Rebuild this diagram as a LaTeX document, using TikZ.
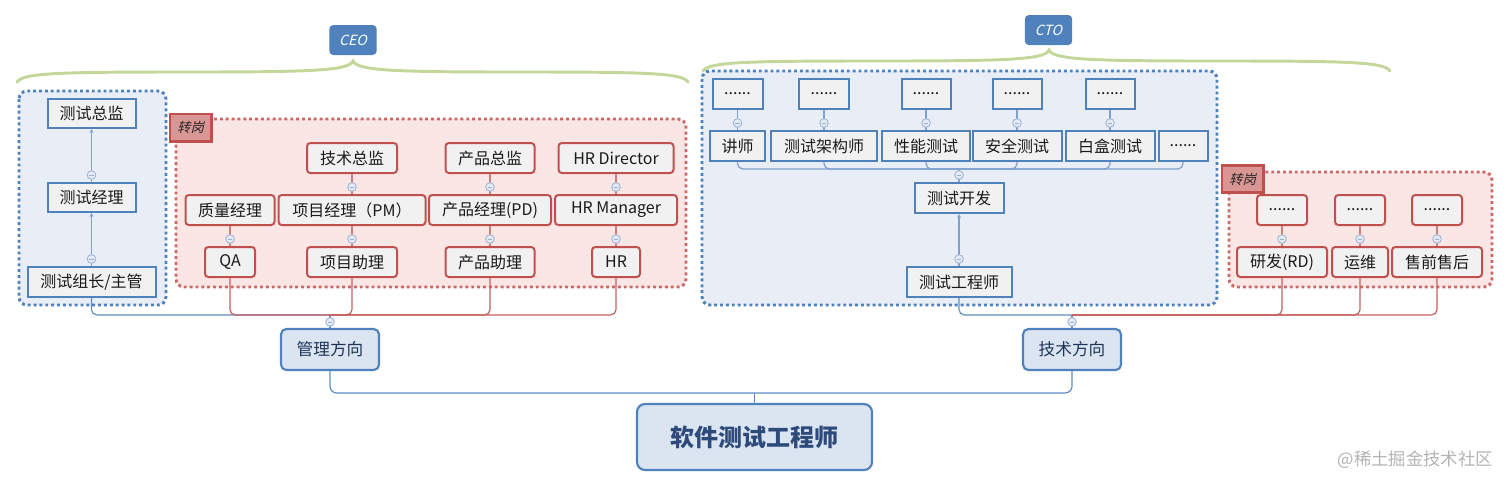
\documentclass[tikz,border=0pt]{standalone}
\usepackage{fontspec}
\setmainfont{Noto Sans CJK SC}
\newfontfamily\slantcjk{Noto Sans CJK SC}[FakeSlant=0.25]
\usetikzlibrary{arrows.meta,calc}
\definecolor{bblue}{HTML}{4F81BD}
\definecolor{lblue}{HTML}{7FA1CF}
\definecolor{bgblue}{HTML}{E9EEF6}
\definecolor{rred}{HTML}{C0504D}
\definecolor{lred}{HTML}{CC7F7D}
\definecolor{bgred}{HTML}{FBE6E6}
\definecolor{ngray}{HTML}{F1F1F1}
\definecolor{tagred}{HTML}{D99694}
\definecolor{dirfill}{HTML}{DBE5F1}
\definecolor{txt}{HTML}{1A1A1A}
\definecolor{navy}{HTML}{1F3556}
\definecolor{rootnavy}{HTML}{2E4A7A}
\definecolor{braceg}{HTML}{C4D79B}
\definecolor{togfill}{HTML}{E4EAF3}
\definecolor{togdraw}{HTML}{9AB0D3}
\definecolor{wm}{HTML}{B4B4B4}
\newcommand\mybrace[4]{%
  \draw[bracestyle] (#1,#4+10) .. controls (#1+6,#4+1) and (#1+40,#4) .. ({(#1+#2)/2},#4)
    .. controls (#2-45,#4) and (#2-4,#4-1) .. (#2,#4-11)
    .. controls (#2+4,#4-1) and (#2+45,#4) .. ({(#2+#3)/2},#4)
    .. controls (#3-40,#4) and (#3-6,#4+1) .. (#3,#4+10);}
\begin{document}
\begin{tikzpicture}[x=0.75pt,y=-0.75pt,
  bw/.style={minimum width={#1*0.75pt}},
  bh/.style={minimum height={#1*0.75pt}},
  basebox/.style={inner sep=0pt, font=\fontsize{12}{14}\selectfont, text=txt, line width=1.5pt, minimum height=22.5pt},
  bbox/.style={basebox, draw=bblue, fill=ngray},
  rbox/.style={basebox, draw=rred, fill=ngray, rounded corners=2.5pt},
  dirbox/.style={inner sep=0pt, draw=bblue, fill=dirfill, line width=1.6pt, rounded corners=4pt, text=navy, font=\fontsize{12.5}{15}\selectfont},
  grpb/.style={draw=bblue, fill=bgblue, line width=2.2pt, dash pattern=on 2.2pt off 2.2pt, rounded corners=6pt},
  grpr/.style={draw=rred!85, fill=bgred, line width=2.2pt, dash pattern=on 2.2pt off 2.2pt, rounded corners=6pt},
  tagbox/.style={draw=rred, fill=tagred, line width=2pt, inner sep=0pt, minimum width=31pt, minimum height=20.5pt, font=\slantcjk\fontsize{10}{11}\selectfont, text=black!85},
  labbox/.style={fill=bblue, rounded corners=3pt, inner sep=0pt, minimum width=35.5pt, minimum height=22.5pt, text=white, font=\slantcjk\fontsize{10.5}{12}\selectfont},
  bl/.style={draw=bblue!90, line width=0.9pt},
  bli/.style={draw=lblue, line width=0.9pt},
  barrow/.style={bli, -{Stealth[length=3pt,width=3pt]}},
  rl/.style={draw=rred!90, line width=0.9pt},
  rli/.style={draw=lred, line width=0.9pt},
  togc/.style={circle, draw=togdraw, fill=togfill, line width=0.6pt, minimum size=6.5pt, inner sep=0pt,
    path picture={\draw[togdraw, line width=0.6pt] ([xshift=-1.6pt]path picture bounding box.center) -- ([xshift=1.6pt]path picture bounding box.center);}},
  bracestyle/.style={draw=braceg, line width=2.2pt, line cap=round},
]
\useasboundingbox (0,0) rectangle (1508,487);
\fill[white] (0,0) rectangle (1508,487);

% braces and labels
\mybrace{17}{353}{688}{72}
\mybrace{703}{1049}{1390}{61}
\node[labbox] (ceo) at (353,40) {CEO};
\node[labbox] (cto) at (1048.5,30) {CTO};

% groups
\draw[grpb] (19,91) rectangle (166,305);
\draw[grpr] (176,119) rectangle (686,287);
\draw[grpb] (702,71) rectangle (1217,305);
\draw[grpr] (1229,172) rectangle (1492,287);
\node[tagbox] (tag1) at (190.5,127.5) {转岗};
\node[tagbox] (tag2) at (1242.5,179) {转岗};

% left blue group
\node[bbox,bw=88,bh=29] (zj) at (91.5,113.5) {测试总监};
\node[bbox,bw=88,bh=29] (jl) at (91.5,197.5) {测试经理};
\node[bbox,bw=128,bh=30] (zz) at (91.5,282) {测试组长/主管};

% red group 1
\node[rbox,bw=90] (jszj) at (352,158) {技术总监};
\node[rbox,bw=89] (cpzj) at (490,158) {产品总监};
\node[rbox,bw=115] (hrd) at (616,158) {HR Director};
\node[rbox,bw=89] (zljl) at (230,210) {质量经理};
\node[rbox,bw=147] (xmjl) at (352,210) {项目经理（PM）};
\node[rbox,bw=122] (cpjl) at (490,210) {产品经理(PD)};
\node[rbox,bw=122] (hrm) at (616,210) {HR Manager};
\node[rbox,bw=50] (qa) at (230,262) {QA};
\node[rbox,bw=90] (xmzl) at (352,262) {项目助理};
\node[rbox,bw=89] (cpzl) at (490,262) {产品助理};
\node[rbox,bw=48] (hr) at (616,262) {HR};

% right blue group
\node[bbox,bw=50] (t1) at (737.5,94) {......};
\node[bbox,bw=50] (t2) at (824,94) {......};
\node[bbox,bw=49] (t3) at (926,94) {......};
\node[bbox,bw=49] (t4) at (1017,94) {......};
\node[bbox,bw=49] (t5) at (1110,94) {......};
\node[bbox,bw=55] (js) at (737.5,146) {讲师};
\node[bbox,bw=106] (csjgs) at (824,146) {测试架构师};
\node[bbox,bw=88] (xn) at (926,146) {性能测试};
\node[bbox,bw=89] (aq) at (1017,146) {安全测试};
\node[bbox,bw=89] (bh) at (1110,146) {白盒测试};
\node[bbox,bw=49] (dd) at (1183,146) {......};
\node[bbox,bw=89] (kf) at (959,198) {测试开发};
\node[bbox,bw=105] (gcs) at (959,282) {测试工程师};

% right red group
\node[rbox,bw=50] (r1) at (1282,210) {......};
\node[rbox,bw=50] (r2) at (1360,210) {......};
\node[rbox,bw=50] (r3) at (1437,210) {......};
\node[rbox,bw=90] (rd) at (1282,262) {研发(RD)};
\node[rbox,bw=56] (yw) at (1360,262) {运维};
\node[rbox,bw=90] (sq) at (1437,262) {售前售后};

% direction boxes and root
\node[dirbox,bw=98,bh=41] (gl) at (330,349.5) {管理方向};
\node[dirbox,bw=98,bh=41] (jf) at (1072,349.5) {技术方向};
\node[inner sep=0pt, draw=bblue, fill=dirfill, line width=1.6pt, rounded corners=6pt, text=rootnavy,
  font=\fontsize{18}{22}\selectfont\bfseries, bw=235, bh=66] (root) at (754.5,437) {软件测试工程师};
\node[font=\fontsize{13}{15}\selectfont, text=wm, anchor=east, inner sep=0pt] (wmk) at (1493,460) {@稀土掘金技术社区};

% connectors: left blue group
\draw[barrow] (zz.north) -- (jl.south);
\draw[barrow] (jl.north) -- (zj.south);
\node[togc] (c1) at ($(zz.north)+(0,-7)$) {};
\node[togc] (c2) at ($(jl.north)+(0,-7)$) {};

% red group 1
\foreach \lo/\hi in {xmjl/jszj, cpjl/cpzj, hrm/hrd, qa/zljl, xmzl/xmjl, cpzl/cpjl, hr/hrm}{
  \draw[rli] (\lo.north) -- (\hi.south);
  \node[togc] at ($(\lo.north)+(0,-7)$) {};
}

% right blue group
\foreach \lo/\hi in {js/t1, csjgs/t2, xn/t3, aq/t4, bh/t5}{
  \draw[bli] (\lo.north) -- (\hi.south);
  \node[togc] at ($(\lo.north)+(0,-7)$) {};
}
\coordinate (kfj) at ($(kf.north)+(0,-13)$);
\draw[bli] (kf.north) -- (kfj);
\foreach \n in {js, csjgs, xn, aq, bh, dd}{
  \draw[bli, rounded corners=4pt] (kfj) -| (\n.south);
}
\node[togc] (c3) at ($(kf.north)+(0,-7)$) {};
\draw[barrow] (gcs.north) -- (kf.south);
\node[togc] (c4) at ($(gcs.north)+(0,-7)$) {};

% right red group
\foreach \lo/\hi in {rd/r1, yw/r2, sq/r3}{
  \draw[rli] (\lo.north) -- (\hi.south);
  \node[togc] at ($(\lo.north)+(0,-7)$) {};
}

% management direction
\coordinate (glj) at ($(gl.north)+(0,-13)$);
\draw[bl] (gl.north) -- (glj);
\draw[bl, rounded corners=4pt] (glj) -| (zz.south);
\foreach \n in {qa, xmzl, cpzl, hr}{
  \draw[rl, rounded corners=4pt] (glj) -| (\n.south);
}
\node[togc] (c5) at ($(gl.north)+(0,-6)$) {};

% technical direction
\coordinate (jfj) at ($(jf.north)+(0,-13)$);
\draw[bl] (jf.north) -- (jfj);
\draw[bl, rounded corners=4pt] (jfj) -| (gcs.south);
\foreach \n in {rd, yw, sq}{
  \draw[rl, rounded corners=4pt] (jfj) -| (\n.south);
}
\node[togc] (c6) at ($(jf.north)+(0,-6)$) {};

% root
\coordinate (rj) at ($(root.north)+(0,-10)$);
\draw[bl] (root.north) -- (rj);
\draw[bl, rounded corners=5pt] (rj) -| (gl.south);
\draw[bl, rounded corners=5pt] (rj) -| (jf.south);
\end{tikzpicture}
\end{document}
